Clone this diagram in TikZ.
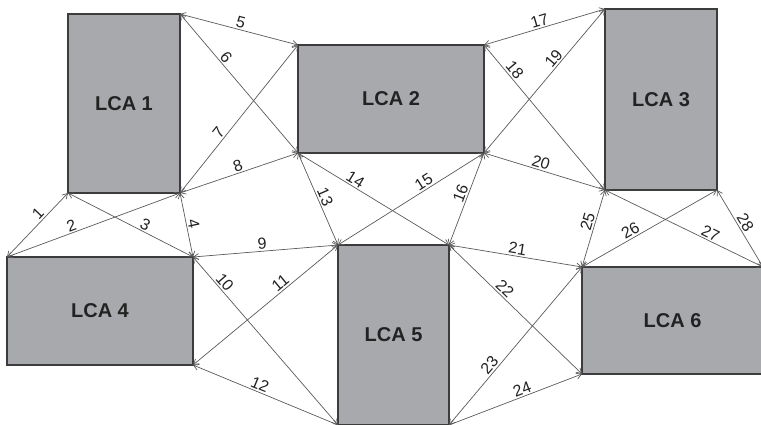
\documentclass[tikz,border=0pt]{standalone}
\usepackage{fontspec}
\setmainfont{Liberation Sans}
\usetikzlibrary{arrows.meta}
\definecolor{boxfill}{HTML}{A7A9AC}
\definecolor{boxedge}{HTML}{3C3C3C}
\definecolor{linkcol}{HTML}{5A5A5A}
\definecolor{labcol}{HTML}{222222}
\begin{document}
\begin{tikzpicture}[x=1pt,y=-1pt,
  lca/.style={draw=boxedge, fill=boxfill, line width=1.2pt, anchor=north west,
    inner sep=0pt, outer sep=0pt, font=\bfseries\fontsize{20}{24}\selectfont, text=labcol},
  link/.style={draw=linkcol, line width=0.7pt,
    {Straight Barb[length=5pt,width=6pt]}-{Straight Barb[length=5pt,width=6pt]}},
  lab/.style={sloped, above=0.5pt, inner sep=1pt, font=\fontsize{16}{18}\selectfont, text=labcol}]
\useasboundingbox (0,0) rectangle (761,424);
\clip (0,0) rectangle (761,424);
% boxes
\node[lca, minimum width=112pt, minimum height=179pt] (L1) at (68,14) {LCA 1};
\node[lca, minimum width=186pt, minimum height=108pt] (L2) at (298,45) {LCA 2};
\node[lca, minimum width=112pt, minimum height=181pt] (L3) at (605,9) {LCA 3};
\node[lca, minimum width=186pt, minimum height=108pt] (L4) at (7,257) {LCA 4};
\node[lca, minimum width=111pt, minimum height=180pt] (L5) at (338,245) {LCA 5};
\node[lca, minimum width=181pt, minimum height=107pt] (L6) at (582,267) {LCA 6};
% links
\draw[link] (L4.north west) -- node[lab,pos=0.594]{1} (L1.south west);
\draw[link] (L4.north west) -- node[lab,pos=0.387]{2} (L1.south east);
\draw[link] (L1.south west) -- node[lab,pos=0.592]{3} (L4.north east);
\draw[link] (L1.south east) -- node[lab,pos=0.502]{4} (L4.north east);
\draw[link] (L1.north east) -- node[lab,pos=0.50]{5} (L2.north west);
\draw[link] (L1.north east) -- node[lab,pos=0.344]{6} (L2.south west);
\draw[link] (L1.south east) -- node[lab,pos=0.376]{7} (L2.north west);
\draw[link] (L1.south east) -- node[lab,pos=0.51]{8} (L2.south west);
\draw[link] (L4.north east) -- node[lab,pos=0.481]{9} (L5.north west);
\draw[link] (L4.north east) -- node[lab,pos=0.18]{10} (L5.south west);
\draw[link] (L4.south east) -- node[lab,pos=0.634]{11} (L5.north west);
\draw[link] (L4.south east) -- node[lab,pos=0.443]{12} (L5.south west);
\draw[link] (L2.south west) -- node[lab,pos=0.51]{13} (L5.north west);
\draw[link] (L2.south west) -- node[lab,pos=0.355]{14} (L5.north east);
\draw[link] (L5.north west) -- node[lab,pos=0.614]{15} (L2.south east);
\draw[link] (L5.north east) -- node[lab,pos=0.532]{16} (L2.south east);
\draw[link] (L2.north east) -- node[lab,pos=0.477]{17} (L3.north west);
\draw[link] (L2.north east) -- node[lab,pos=0.207]{18} (L3.south west);
\draw[link] (L2.south east) -- node[lab,pos=0.623]{19} (L3.north west);
\draw[link] (L2.south east) -- node[lab,pos=0.452]{20} (L3.south west);
\draw[link] (L5.north east) -- node[lab,pos=0.507]{21} (L6.north west);
\draw[link] (L5.north east) -- node[lab,pos=0.382]{22} (L6.south west);
\draw[link] (L5.south east) -- node[lab,pos=0.347]{23} (L6.north west);
\draw[link] (L5.south east) -- node[lab,pos=0.569]{24} (L6.south west);
\draw[link] (L6.north west) -- node[lab,pos=0.558]{25} (L3.south west);
\draw[link] (L6.north west) -- node[lab,pos=0.386]{26} (L3.south east);
\draw[link] (L3.south west) -- node[lab,pos=0.647]{27} (L6.north east);
\draw[link] (L3.south east) -- node[lab,pos=0.476]{28} (L6.north east);
\end{tikzpicture}
\end{document}
